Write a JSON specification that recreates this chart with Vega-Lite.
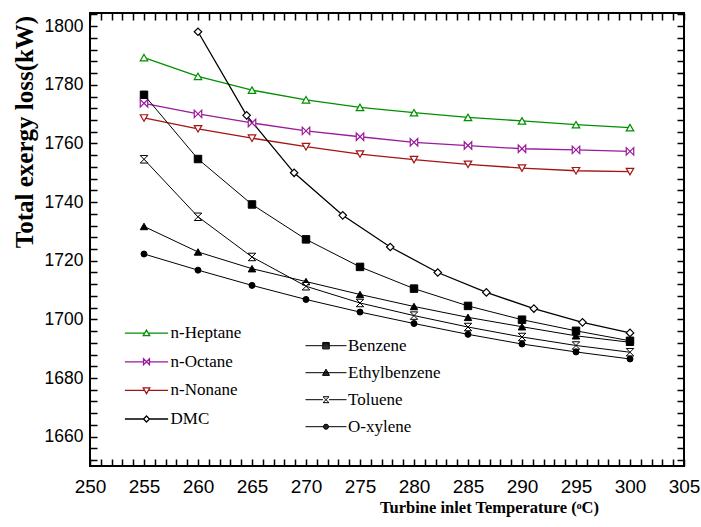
{
  "$schema": "https://vega.github.io/schema/vega-lite/v6.json",
  "width": 594,
  "height": 453,
  "autosize": "none",
  "padding": {"left": 90, "top": 13, "right": 17, "bottom": 61},
  "background": "white",
  "config": {
    "view": {"stroke": "black", "strokeWidth": 2},
    "axis": {"grid": false, "ticks": true, "zindex": 1, "tickColor": "black", "domainColor": "black", "labelColor": "black", "titleColor": "black", "labelFont": "Liberation Sans", "titleFont": "Liberation Serif"},
    "legend": {"labelFont": "Liberation Serif", "labelColor": "black"}
  },
  "data": {
    "values": [
      {"s": "n-Heptane", "T": 255, "v": 1789.3}, {"s": "n-Heptane", "T": 260, "v": 1782.9}, {"s": "n-Heptane", "T": 265, "v": 1778.2}, {"s": "n-Heptane", "T": 270, "v": 1774.9}, {"s": "n-Heptane", "T": 275, "v": 1772.3}, {"s": "n-Heptane", "T": 280, "v": 1770.5}, {"s": "n-Heptane", "T": 285, "v": 1768.9}, {"s": "n-Heptane", "T": 290, "v": 1767.7}, {"s": "n-Heptane", "T": 295, "v": 1766.4}, {"s": "n-Heptane", "T": 300, "v": 1765.4},
      {"s": "n-Octane", "T": 255, "v": 1773.7}, {"s": "n-Octane", "T": 260, "v": 1770.1}, {"s": "n-Octane", "T": 265, "v": 1767.0}, {"s": "n-Octane", "T": 270, "v": 1764.3}, {"s": "n-Octane", "T": 275, "v": 1762.3}, {"s": "n-Octane", "T": 280, "v": 1760.4}, {"s": "n-Octane", "T": 285, "v": 1759.3}, {"s": "n-Octane", "T": 290, "v": 1758.2}, {"s": "n-Octane", "T": 295, "v": 1757.8}, {"s": "n-Octane", "T": 300, "v": 1757.3},
      {"s": "n-Nonane", "T": 255, "v": 1768.7}, {"s": "n-Nonane", "T": 260, "v": 1765.0}, {"s": "n-Nonane", "T": 265, "v": 1761.8}, {"s": "n-Nonane", "T": 270, "v": 1758.9}, {"s": "n-Nonane", "T": 275, "v": 1756.4}, {"s": "n-Nonane", "T": 280, "v": 1754.5}, {"s": "n-Nonane", "T": 285, "v": 1752.9}, {"s": "n-Nonane", "T": 290, "v": 1751.6}, {"s": "n-Nonane", "T": 295, "v": 1750.7}, {"s": "n-Nonane", "T": 300, "v": 1750.4},
      {"s": "DMC", "T": 260, "v": 1798.1}, {"s": "DMC", "T": 264.5, "v": 1769.6}, {"s": "DMC", "T": 268.9, "v": 1750.0}, {"s": "DMC", "T": 273.4, "v": 1735.5}, {"s": "DMC", "T": 277.8, "v": 1724.7}, {"s": "DMC", "T": 282.2, "v": 1716.0}, {"s": "DMC", "T": 286.7, "v": 1709.2}, {"s": "DMC", "T": 291.1, "v": 1703.7}, {"s": "DMC", "T": 295.6, "v": 1699.0}, {"s": "DMC", "T": 300, "v": 1695.4},
      {"s": "Benzene", "T": 255, "v": 1776.6}, {"s": "Benzene", "T": 260, "v": 1754.7}, {"s": "Benzene", "T": 265, "v": 1739.2}, {"s": "Benzene", "T": 270, "v": 1727.3}, {"s": "Benzene", "T": 275, "v": 1717.9}, {"s": "Benzene", "T": 280, "v": 1710.5}, {"s": "Benzene", "T": 285, "v": 1704.6}, {"s": "Benzene", "T": 290, "v": 1699.9}, {"s": "Benzene", "T": 295, "v": 1696.1}, {"s": "Benzene", "T": 300, "v": 1692.7},
      {"s": "Ethylbenzene", "T": 255, "v": 1731.7}, {"s": "Ethylbenzene", "T": 260, "v": 1723.0}, {"s": "Ethylbenzene", "T": 265, "v": 1717.3}, {"s": "Ethylbenzene", "T": 270, "v": 1712.9}, {"s": "Ethylbenzene", "T": 275, "v": 1708.5}, {"s": "Ethylbenzene", "T": 280, "v": 1704.4}, {"s": "Ethylbenzene", "T": 285, "v": 1700.7}, {"s": "Ethylbenzene", "T": 290, "v": 1697.5}, {"s": "Ethylbenzene", "T": 295, "v": 1694.4}, {"s": "Ethylbenzene", "T": 300, "v": 1692.2},
      {"s": "Toluene", "T": 255, "v": 1754.6}, {"s": "Toluene", "T": 260, "v": 1735.0}, {"s": "Toluene", "T": 265, "v": 1721.3}, {"s": "Toluene", "T": 270, "v": 1711.3}, {"s": "Toluene", "T": 275, "v": 1705.6}, {"s": "Toluene", "T": 280, "v": 1701.3}, {"s": "Toluene", "T": 285, "v": 1697.4}, {"s": "Toluene", "T": 290, "v": 1694.0}, {"s": "Toluene", "T": 295, "v": 1691.1}, {"s": "Toluene", "T": 300, "v": 1688.8},
      {"s": "O-xylene", "T": 255, "v": 1722.3}, {"s": "O-xylene", "T": 260, "v": 1716.8}, {"s": "O-xylene", "T": 265, "v": 1711.6}, {"s": "O-xylene", "T": 270, "v": 1706.8}, {"s": "O-xylene", "T": 275, "v": 1702.5}, {"s": "O-xylene", "T": 280, "v": 1698.6}, {"s": "O-xylene", "T": 285, "v": 1694.9}, {"s": "O-xylene", "T": 290, "v": 1691.6}, {"s": "O-xylene", "T": 295, "v": 1688.9}, {"s": "O-xylene", "T": 300, "v": 1686.5}
    ]
  },
  "resolve": {"scale": {"stroke": "independent"}},
  "layer": [
    {
      "layer": [
        {
          "transform": [{"filter": {"field": "s", "oneOf": ["n-Heptane", "n-Octane", "n-Nonane", "DMC"]}}],
          "mark": {"type": "line", "strokeWidth": 1.3},
          "encoding": {
            "x": {"field": "T", "type": "quantitative", "scale": {"domain": [250, 305], "nice": false, "zero": false},
              "axis": {"orient": "bottom", "offset": -7, "values": [250, 251, 252, 253, 254, 255, 256, 257, 258, 259, 260, 261, 262, 263, 264, 265, 266, 267, 268, 269, 270, 271, 272, 273, 274, 275, 276, 277, 278, 279, 280, 281, 282, 283, 284, 285, 286, 287, 288, 289, 290, 291, 292, 293, 294, 295, 296, 297, 298, 299, 300, 301, 302, 303, 304, 305], "labelExpr": "datum.value % 5 === 0 ? datum.label : ''", "tickSize": 7, "tickWidth": 1.5, "tickColor": "black", "domain": false, "labelFontSize": 19, "labelPadding": 11, "labelFlush": false, "labelOverlap": false, "title": "Turbine inlet Temperature (ᵒC)", "titleFontSize": 16.5, "titleFontWeight": "bold", "titleX": 399, "titleY": 53, "titleAlign": "center", "titleBaseline": "alphabetic"}},
            "y": {"field": "v", "type": "quantitative", "scale": {"domain": [1650, 1804.5], "nice": false, "zero": false},
              "axis": {"orient": "left", "offset": -7, "values": [1652, 1656, 1660, 1664, 1668, 1672, 1676, 1680, 1684, 1688, 1692, 1696, 1700, 1704, 1708, 1712, 1716, 1720, 1724, 1728, 1732, 1736, 1740, 1744, 1748, 1752, 1756, 1760, 1764, 1768, 1772, 1776, 1780, 1784, 1788, 1792, 1796, 1800, 1804], "format": "d", "labelExpr": "datum.value % 20 === 0 ? datum.label : ''", "tickSize": 7, "tickWidth": 1.5, "tickColor": "black", "domain": false, "labelFontSize": 17.5, "labelPadding": 7, "labelOverlap": false, "title": "Total exergy loss(kW)", "titleFontSize": 25, "titleFontWeight": "bold", "titleX": -65, "titleY": 118.5, "titleAngle": -90, "titleAlign": "center", "titleBaseline": "alphabetic"}},
            "stroke": {"field": "s", "type": "nominal",
              "scale": {"domain": ["n-Heptane", "n-Octane", "n-Nonane", "DMC"], "range": ["#009000", "#9a1a9a", "#a31515", "#000000"]},
              "legend": {"orient": "none", "legendX": 42, "legendY": 305.7, "title": null, "direction": "vertical", "padding": 0, "symbolSize": 729, "symbolStrokeWidth": 1.3, "symbolOffset": 0, "labelOffset": 9.5, "labelFontSize": 17, "rowPadding": 5.6,
                "encode": {"symbols": {"update": {
                  "shape": {"signal": "datum.value === 'n-Heptane' ? 'M-1.6,0H-0.14M0.14,0H1.6M0,-0.24L0.24,0.18L-0.24,0.18Z' : datum.value === 'n-Octane' ? 'M-1.6,0H-0.22M0.22,0H1.6M-0.22,-0.22L0.22,0.22L0.22,-0.22L-0.22,0.22Z' : datum.value === 'n-Nonane' ? 'M-1.6,0H-0.14M0.14,0H1.6M0,0.24L0.24,-0.18L-0.24,-0.18Z' : 'M-1.6,0H-0.22M0.22,0H1.6M0,-0.22L0.22,0L0,0.22L-0.22,0Z'"},
                  "fill": {"value": "white"}, "opacity": {"value": 1}}}}}
            }
          }
        },
        {
          "transform": [{"filter": {"field": "s", "oneOf": ["n-Heptane", "n-Octane", "n-Nonane", "DMC"]}}],
          "mark": {"type": "point", "fill": "white", "strokeWidth": 1.2, "opacity": 1, "size": 56},
          "encoding": {
            "x": {"field": "T", "type": "quantitative",
              "axis": {"orient": "top", "offset": -7, "values": [250, 251, 252, 253, 254, 255, 256, 257, 258, 259, 260, 261, 262, 263, 264, 265, 266, 267, 268, 269, 270, 271, 272, 273, 274, 275, 276, 277, 278, 279, 280, 281, 282, 283, 284, 285, 286, 287, 288, 289, 290, 291, 292, 293, 294, 295, 296, 297, 298, 299, 300, 301, 302, 303, 304, 305], "labels": false, "title": null, "tickSize": 7, "tickWidth": 1.5, "tickColor": "black", "domain": false}},
            "y": {"field": "v", "type": "quantitative",
              "axis": {"orient": "right", "offset": -7, "values": [1652, 1656, 1660, 1664, 1668, 1672, 1676, 1680, 1684, 1688, 1692, 1696, 1700, 1704, 1708, 1712, 1716, 1720, 1724, 1728, 1732, 1736, 1740, 1744, 1748, 1752, 1756, 1760, 1764, 1768, 1772, 1776, 1780, 1784, 1788, 1792, 1796, 1800, 1804], "labels": false, "title": null, "tickSize": 7, "tickWidth": 1.5, "tickColor": "black", "domain": false}},
            "stroke": {"field": "s", "type": "nominal"},
            "shape": {"condition": [
              {"test": "datum.s === 'n-Heptane'", "value": "triangle-up"},
              {"test": "datum.s === 'n-Octane'", "value": "M-1,-1L1,1L1,-1L-1,1Z"},
              {"test": "datum.s === 'n-Nonane'", "value": "triangle-down"}], "value": "diamond"}
          }
        }
      ]
    },
    {
      "layer": [
        {
          "transform": [{"filter": {"field": "s", "oneOf": ["Benzene", "Ethylbenzene", "Toluene", "O-xylene"]}}],
          "mark": {"type": "line", "strokeWidth": 1},
          "encoding": {
            "x": {"field": "T", "type": "quantitative", "axis": null},
            "y": {"field": "v", "type": "quantitative", "axis": null},
            "stroke": {"field": "s", "type": "nominal",
              "scale": {"domain": ["Benzene", "Ethylbenzene", "Toluene", "O-xylene"], "range": ["#000000", "#000001", "#000002", "#000003"]},
              "legend": {"orient": "none", "legendX": 222, "legendY": 318.7, "title": null, "direction": "vertical", "padding": 0, "symbolSize": 729, "symbolStrokeWidth": 1, "symbolOffset": 0, "labelOffset": 8, "labelFontSize": 17, "rowPadding": 5,
                "encode": {"symbols": {"update": {
                  "shape": {"signal": "datum.value === 'Benzene' ? 'M-1.52,0H-0.24M0.24,0H1.52M-0.24,-0.24H0.24V0.24H-0.24ZM-0.24,-0.17H0.24M-0.24,-0.1H0.24M-0.24,-0.03H0.24M-0.24,0.04H0.24M-0.24,0.11H0.24M-0.24,0.18H0.24' : datum.value === 'Ethylbenzene' ? 'M-1.52,0H1.52M0,-0.26L0.26,0.2L-0.26,0.2ZM-0.034,-0.2H0.034M-0.073,-0.13H0.073M-0.113,-0.06H0.113M-0.153,0.01H0.153M-0.192,0.08H0.192M-0.232,0.15H0.232' : datum.value === 'Toluene' ? 'M-1.52,0H-0.22M0.22,0H1.52M-0.22,-0.22H0.22L-0.22,0.22H0.22Z' : 'M-1.52,0H1.52M0.19,0L0.134,0.134L0,0.19L-0.134,0.134L-0.19,0L-0.134,-0.134L0,-0.19L0.134,-0.134ZM-0.117,-0.15H0.117M-0.175,-0.075H0.175M-0.175,0.075H0.175M-0.117,0.15H0.117'"},
                  "fill": {"value": "white"}, "opacity": {"value": 1}}}}}
            }
          }
        },
        {
          "transform": [{"filter": {"field": "s", "oneOf": ["Benzene", "Ethylbenzene", "Toluene", "O-xylene"]}}],
          "mark": {"type": "point", "strokeWidth": 1, "opacity": 1},
          "encoding": {
            "x": {"field": "T", "type": "quantitative", "axis": null},
            "y": {"field": "v", "type": "quantitative", "axis": null},
            "stroke": {"field": "s", "type": "nominal"},
            "fill": {"condition": {"test": "datum.s === 'Toluene'", "value": "white"}, "value": "black"},
            "shape": {"condition": [
              {"test": "datum.s === 'Benzene'", "value": "square"},
              {"test": "datum.s === 'Ethylbenzene'", "value": "triangle-up"},
              {"test": "datum.s === 'Toluene'", "value": "M-1,-1L1,-1L-1,1L1,1Z"}], "value": "circle"},
            "size": {"condition": {"test": "datum.s === 'O-xylene'", "value": 36}, "value": 56}
          }
        }
      ]
    }
  ]
}
